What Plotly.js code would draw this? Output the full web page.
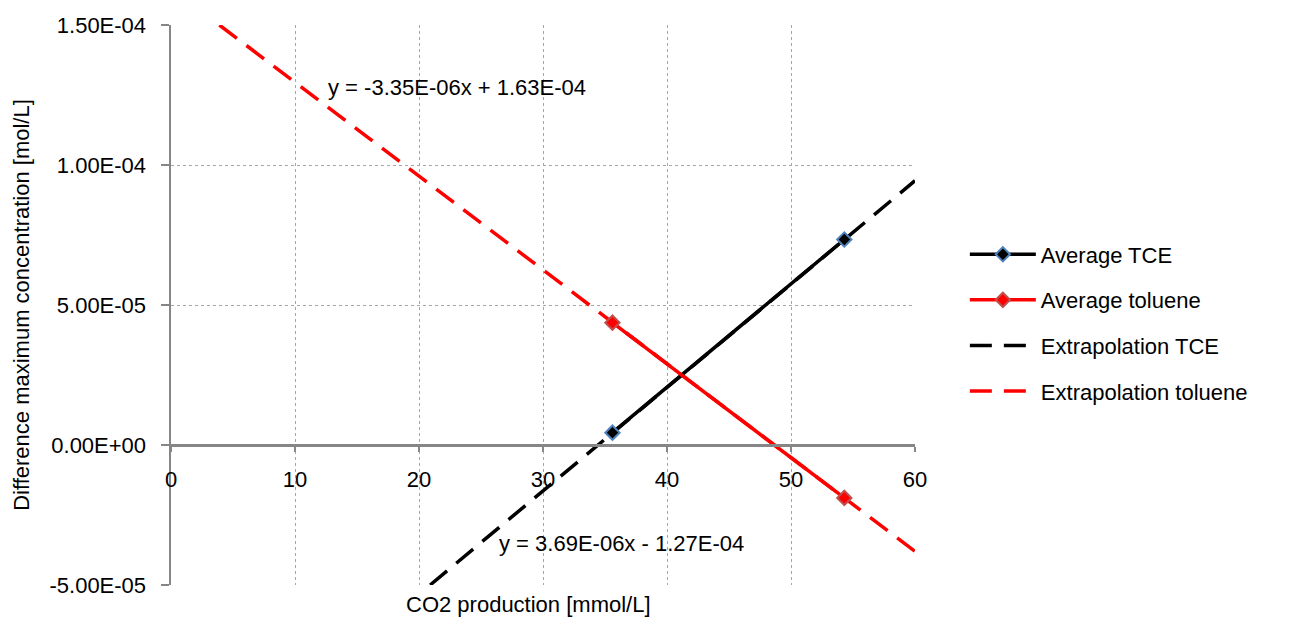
<!DOCTYPE html>
<html>
<head>
<meta charset="utf-8">
<script src="https://cdn.plot.ly/plotly-3.0.1.min.js"></script>
<style>
html,body{margin:0;padding:0;background:#fff;}
#chart{width:1290px;height:618px;}
</style>
</head>
<body>
<div id="chart"></div>
<script>
// Data
const avgX = [35.6, 54.3];
const avgTCE = [4.4e-6, 7.34e-5];
const avgToluene = [4.37e-5, -1.89e-5];
const extTCEX = [20.9, 60];
const extTCEY = [-5.0e-5, 9.44e-5];
const extTolX = [3.9, 60];
const extTolY = [1.5e-4, -3.8e-5];
const yTickVals = [-5e-5, 0, 5e-5, 1e-4, 1.5e-4];
const yTickText = ["-5.00E-05", "0.00E+00", "5.00E-05", "1.00E-04", "1.50E-04"];
const xTickVals = [0, 10, 20, 30, 40, 50, 60];
const eqTol = "y = -3.35E-06x + 1.63E-04";
const eqTCE = "y = 3.69E-06x - 1.27E-04";

const FONT = "Liberation Sans, Arial, sans-serif";
const traces = [
  {x: extTCEX, y: extTCEY, mode: 'lines', name: 'Extrapolation TCE', legendgroup: 'c', legendrank: 3,
   line: {color: '#000000', width: 3.5, dash: '22px,12px'}},
  {x: extTolX, y: extTolY, mode: 'lines', name: 'Extrapolation toluene', legendgroup: 'd', legendrank: 4,
   line: {color: '#ff0000', width: 3.5, dash: '22px,12px'}},
  {x: avgX, y: avgTCE, mode: 'lines+markers', name: 'Average TCE', legendgroup: 'a', legendrank: 1,
   line: {color: '#000000', width: 3.5},
   marker: {symbol: 'diamond', size: 11, color: '#000000', line: {color: '#4f81bd', width: 2}}},
  {x: avgX, y: avgToluene, mode: 'lines+markers', name: 'Average toluene', legendgroup: 'b', legendrank: 2,
   line: {color: '#ff0000', width: 3.5},
   marker: {symbol: 'diamond', size: 11, color: '#ff0000', line: {color: '#c0504d', width: 2}}}
];

const layout = {
  width: 1290, height: 618,
  margin: {l: 171, r: 375, t: 25, b: 33},
  paper_bgcolor: '#ffffff', plot_bgcolor: '#ffffff',
  font: {family: FONT, size: 22, color: '#000000'},
  showlegend: true,
  legend: {x: 1.067, xanchor: 'left', y: 0.468, yanchor: 'middle', traceorder: 'grouped',
           tracegroupgap: 14, itemwidth: 66, font: {size: 22, family: FONT}, bgcolor: 'rgba(0,0,0,0)'},
  xaxis: {
    range: [0, 60], tickvals: xTickVals, ticktext: xTickVals.map(String),
    anchor: 'free', position: 0.25,
    showline: true, linecolor: '#868686', linewidth: 2.5,
    ticks: 'outside', ticklen: 5, tickcolor: '#868686', tickwidth: 2,
    ticklabelstandoff: 9,
    showgrid: true, gridcolor: '#a6a6a6', griddash: 'dot', gridwidth: 1,
    zeroline: false, fixedrange: true
  },
  yaxis: {
    range: [-5e-5, 1.5e-4], tickvals: yTickVals, ticktext: yTickText,
    showline: true, linecolor: '#868686', linewidth: 2.5,
    ticks: 'outside', ticklen: 8, tickcolor: '#868686', tickwidth: 2,
    ticklabelstandoff: 10,
    showgrid: true, gridcolor: '#a6a6a6', griddash: 'dot', gridwidth: 1,
    zeroline: false, fixedrange: true,
    title: {text: 'Difference maximum concentration [mol/L]', font: {size: 22, family: FONT}, standoff: 14}
  },
  annotations: [
    {xref: 'paper', yref: 'paper', x: 0.48, y: -0.035, xanchor: 'center', yanchor: 'middle',
     text: 'CO2 production [mmol/L]', showarrow: false, font: {size: 22, family: FONT}},
    {xref: 'x', yref: 'y', x: 12.5, y: 1.277e-4, xanchor: 'left', yanchor: 'middle',
     text: eqTol, showarrow: false, font: {size: 22, family: FONT}},
    {xref: 'x', yref: 'y', x: 26.3, y: -3.5e-5, xanchor: 'left', yanchor: 'middle',
     text: eqTCE, showarrow: false, font: {size: 22, family: FONT}}
  ]
};

Plotly.newPlot('chart', traces, layout, {displayModeBar: false, staticPlot: true});
</script>
</body>
</html>
